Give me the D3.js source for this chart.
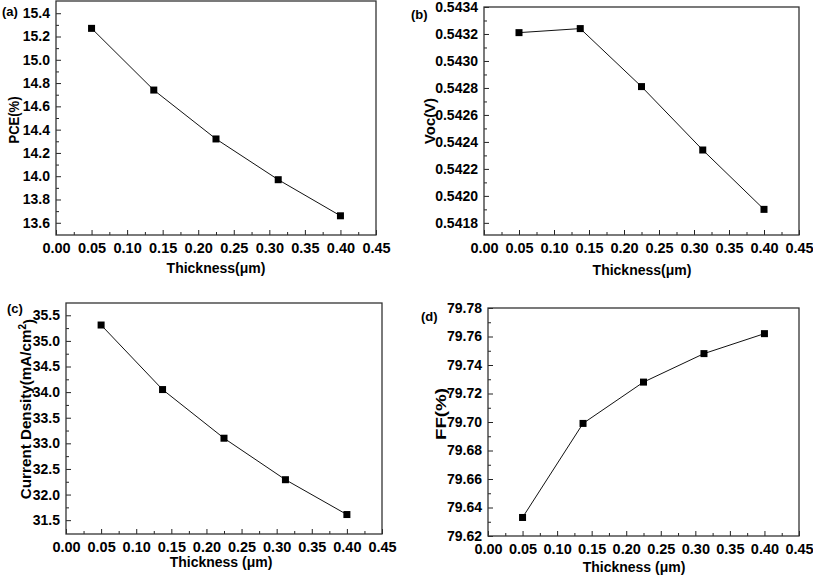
<!DOCTYPE html>
<html>
<head>
<meta charset="utf-8">
<script src="https://cdn.jsdelivr.net/npm/d3@7"></script>
<style>
  body { margin: 0; background: #fff; }
  svg { display: block; font-family: "Liberation Sans", Arial, sans-serif; }
  .tick text { font-weight: bold; }
</style>
</head>
<body>
<svg id="chart" width="813" height="577"></svg>
<script>
// thickness values shared by every panel
const thickness = [0.05, 0.1375, 0.225, 0.3125, 0.40];
const xTicks = [0, 0.05, 0.10, 0.15, 0.20, 0.25, 0.30, 0.35, 0.40, 0.45];

const pceValues = [15.27, 14.74, 14.32, 13.97, 13.66];
const pceTicks = [13.6, 13.8, 14.0, 14.2, 14.4, 14.6, 14.8, 15.0, 15.2, 15.4];

const vocValues = [0.54321, 0.54324, 0.54281, 0.54234, 0.54190];
const vocTicks = [0.5418, 0.5420, 0.5422, 0.5424, 0.5426, 0.5428, 0.5430, 0.5432, 0.5434];

const jscValues = [35.31, 34.05, 33.10, 32.29, 31.61];
const jscTicks = [31.5, 32.0, 32.5, 33.0, 33.5, 34.0, 34.5, 35.0, 35.5];

const ffValues = [79.633, 79.699, 79.728, 79.748, 79.762];
const ffTicks = [79.62, 79.64, 79.66, 79.68, 79.70, 79.72, 79.74, 79.76, 79.78];

const svg = d3.select('#chart');

// panel layout (frame edges in px)
const panels = [
  { tag: '(a)', tagX: 2, tagY: 16, left: 56, right: 376, top: 1, bottom: 235,
    yDomain: [13.495, 15.505], yTicks: pceTicks, yFmt: d3.format('.1f'), values: pceValues,
    yTitle: 'PCE(%)', yTitleX: 14, yTitleY: 120, yTitleLen: 47,
    xTitle: 'Thickness(\u03bcm)', xTitleX: 216, xTitleY: 273 },
  { tag: '(b)', tagX: 411, tagY: 19, left: 484, right: 799, top: 7, bottom: 235,
    yDomain: [0.54171, 0.5434], yTicks: vocTicks, yFmt: d3.format('.4f'), values: vocValues,
    yTitle: 'Voc(V)', yTitleX: 430, yTitleY: 121, yTitleLen: 46,
    xTitle: 'Thickness(\u03bcm)', xTitleX: 642, xTitleY: 275 },
  { tag: '(c)', tagX: 7, tagY: 313, left: 66, right: 382, top: 303, bottom: 534,
    yDomain: [31.23, 35.74], yTicks: jscTicks, yFmt: d3.format('.1f'), values: jscValues,
    yTitle: 'Current Density(mA/cm', sup: '2', yTitleClose: ')', yTitleX: 26, yTitleY: 409,
    yTitleSize: 15.2, xTitle: 'Thickness (\u03bcm)', xTitleX: 221, xTitleY: 567 },
  { tag: '(d)', tagX: 421, tagY: 321, left: 488, right: 799, top: 308, bottom: 536,
    yDomain: [79.62, 79.78], yTicks: ffTicks, yFmt: d3.format('.2f'), values: ffValues,
    yTitle: 'FF(%)', yTitleX: 441, yTitleY: 414, yTitleLen: 52, yTitleSize: 14,
    xTitle: 'Thickness (\u03bcm)', xTitleX: 634, xTitleY: 572 }
];

function midpoints(ticks) {
  const out = [];
  for (let i = 0; i < ticks.length - 1; i++) out.push((ticks[i] + ticks[i + 1]) / 2);
  return out;
}

function drawPanel(p) {
  const x = d3.scaleLinear().domain([0, 0.45]).range([p.left, p.right]);
  const y = d3.scaleLinear().domain(p.yDomain).range([p.bottom, p.top]);
  const g = svg.append('g');

  // minor ticks first (inside the frame)
  g.append('g')
    .attr('transform', `translate(0,${p.bottom})`)
    .call(d3.axisTop(x).tickValues(midpoints(xTicks)).tickSize(3).tickFormat(''))
    .call(a => a.select('.domain').remove());
  g.append('g')
    .attr('transform', `translate(${p.left},0)`)
    .call(d3.axisRight(y).tickValues(midpoints(p.yTicks)).tickSize(3).tickFormat(''))
    .call(a => a.select('.domain').remove());

  // major ticks, pointing inward
  const xAxis = g.append('g')
    .attr('transform', `translate(0,${p.bottom})`)
    .call(d3.axisTop(x).tickValues(xTicks).tickSize(5).tickFormat(d3.format('.2f')));
  xAxis.select('.domain').remove();
  xAxis.selectAll('text').attr('y', 8).attr('dy', '0.71em').style('font-size', '14.5px');

  const yAxis = g.append('g')
    .attr('transform', `translate(${p.left},0)`)
    .call(d3.axisRight(y).tickValues(p.yTicks).tickSize(5).tickFormat(p.yFmt));
  yAxis.select('.domain').remove();
  yAxis.selectAll('text').attr('x', -6).attr('text-anchor', 'end').style('font-size', '14px');
  g.selectAll('.tick line').attr('stroke', '#222').attr('stroke-width', 1);

  // frame
  g.append('rect')
    .attr('x', p.left).attr('y', p.top)
    .attr('width', p.right - p.left).attr('height', p.bottom - p.top)
    .attr('fill', 'none').attr('stroke', '#333').attr('stroke-width', 1.3);

  const pts = thickness.map((t, i) => [t, p.values[i]]);
  g.append('path')
    .datum(pts)
    .attr('fill', 'none')
    .attr('stroke', '#111')
    .attr('stroke-width', 1)
    .attr('d', d3.line().x(d => x(d[0])).y(d => y(d[1])));

  g.selectAll('rect.marker')
    .data(pts)
    .enter().append('rect')
    .attr('class', 'marker')
    .attr('x', d => x(d[0]) - 3.5)
    .attr('y', d => y(d[1]) - 3.5)
    .attr('width', 7).attr('height', 7)
    .attr('fill', '#000');

  // titles
  g.append('text')
    .attr('x', p.xTitleX)
    .attr('y', p.xTitleY)
    .attr('text-anchor', 'middle')
    .style('font-size', '14px').style('font-weight', 'bold')
    .text(p.xTitle);

  const yt = g.append('text')
    .attr('transform', `translate(${p.yTitleX},${p.yTitleY}) rotate(-90)`)
    .attr('text-anchor', 'middle')
    .attr('dy', '0.35em')
    .style('font-size', (p.yTitleSize || 14) + 'px').style('font-weight', 'bold')
    .text(p.yTitle);
  if (p.yTitleLen) yt.attr('textLength', p.yTitleLen).attr('lengthAdjust', 'spacingAndGlyphs');
  if (p.sup) {
    yt.append('tspan').attr('dy', '-0.5em').style('font-size', '10px').text(p.sup);
    yt.append('tspan').attr('dy', '0.5em').text(p.yTitleClose);
  }

  g.append('text')
    .attr('x', p.tagX).attr('y', p.tagY)
    .style('font-size', '13px').style('font-weight', 'bold')
    .text(p.tag);
}

panels.forEach(drawPanel);
</script>
</body>
</html>
